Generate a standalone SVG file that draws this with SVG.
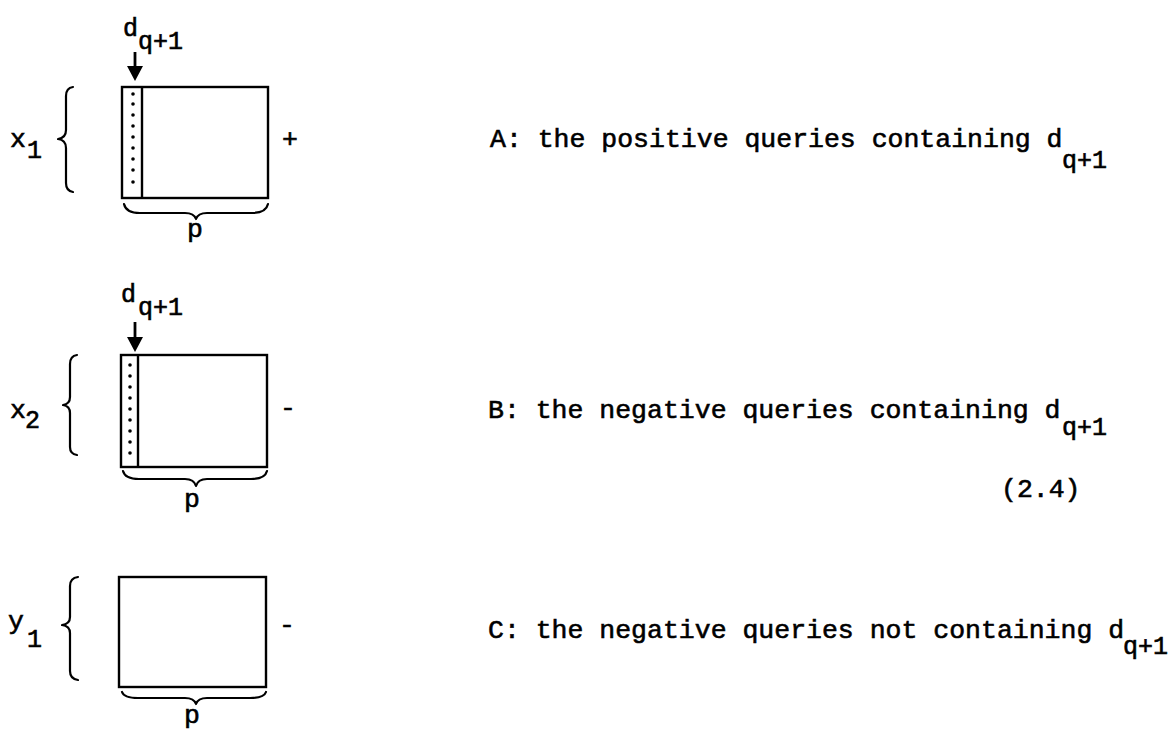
<svg xmlns="http://www.w3.org/2000/svg" width="1170" height="729" viewBox="0 0 1170 729">
<style>
.t{font-family:"Liberation Mono","Courier New",monospace;font-size:26.5px;fill:#000;stroke:#000;stroke-width:0.6}
.s{font-family:"Liberation Mono","Courier New",monospace;font-size:25px;fill:#000;stroke:#000;stroke-width:0.6}
.box{fill:none;stroke:#000;stroke-width:2.4}
.br{fill:none;stroke:#000;stroke-width:2.2;stroke-linecap:round;stroke-linejoin:round}
.dot{fill:#000}
.ar{fill:none;stroke:#000;stroke-width:2.8}
.ah{fill:#000}
</style>
<rect width="1170" height="729" fill="#fff"/>

<g id="panelA">
  <text class="t" x="10" y="147">x</text><text class="s" x="27" y="158">1</text>
  <path class="br" d="M73,87 Q66,88 66,96 L66,130 Q66,138 58,139 Q66,140 66,148 L66,183 Q66,191 73,192"/>
  <rect class="box" x="122" y="87" width="146" height="111"/>
  <line class="box" x1="142" y1="87" x2="142" y2="198"/>
  <g class="dot">
    <circle cx="133" cy="94" r="1.8"/><circle cx="133" cy="104" r="1.8"/><circle cx="133" cy="115" r="1.8"/>
    <circle cx="133" cy="126" r="1.8"/><circle cx="133" cy="137" r="1.8"/><circle cx="133" cy="148" r="1.8"/>
    <circle cx="133" cy="159" r="1.8"/><circle cx="133" cy="170" r="1.8"/><circle cx="133" cy="182" r="1.8"/>
  </g>
  <text class="s" x="123" y="36">d</text><text class="s" x="138" y="49">q+1</text>
  <text class="t" x="290" y="147" text-anchor="middle">+</text>
  <path class="br" d="M124,204 Q126,213 140,213 L185,213 Q194,213 196,219 Q198,213 207,213 L252,213 Q266,213 268,204"/>
  <text class="t" x="195" y="237" text-anchor="middle">p</text>
  <text class="t" x="490" y="147">A: the positive queries containing d</text>
  <text class="s" x="1062" y="168">q+1</text>
</g>

<g id="panelB">
  <text class="t" x="10" y="418">x</text><text class="s" x="25" y="428">2</text>
  <path class="br" d="M77,355 Q70,356 70,364 L70,397 Q70,404 63,405 Q70,406 70,413 L70,447 Q70,454 77,455"/>
  <rect class="box" x="121" y="355" width="146" height="112"/>
  <line class="box" x1="138" y1="355" x2="138" y2="467"/>
  <g class="dot">
    <circle cx="130" cy="365" r="1.8"/><circle cx="130" cy="376" r="1.8"/><circle cx="130" cy="387" r="1.8"/>
    <circle cx="130" cy="398" r="1.8"/><circle cx="130" cy="409" r="1.8"/><circle cx="130" cy="420" r="1.8"/>
    <circle cx="130" cy="431" r="1.8"/><circle cx="130" cy="442" r="1.8"/><circle cx="130" cy="453" r="1.8"/>
  </g>
  <text class="s" x="121" y="302">d</text><text class="s" x="138" y="315">q+1</text>
  <text class="t" x="288" y="416" text-anchor="middle">-</text>
  <path class="br" d="M123,471 Q125,479 139,479 L185,479 Q194,479 196,486 Q198,479 207,479 L251,479 Q265,479 267,471"/>
  <text class="t" x="192" y="507" text-anchor="middle">p</text>
  <text class="t" x="488" y="418">B: the negative queries containing d</text>
  <text class="s" x="1062" y="435">q+1</text>
  <text class="t" x="1001" y="497">(2.4)</text>
</g>

<g id="panelC">
  <text class="t" x="8" y="629">y</text><text class="s" x="27" y="647">1</text>
  <path class="br" d="M78,577 Q70,578 70,586 L70,617 Q70,624 62,625 Q70,626 70,633 L70,671 Q70,679 78,680"/>
  <rect class="box" x="119" y="577" width="147" height="110"/>
  <text class="t" x="287" y="633" text-anchor="middle">-</text>
  <path class="br" d="M122,692 Q124,698 138,698 L185,698 Q194,698 196,704 Q198,698 207,698 L250,698 Q264,698 266,692"/>
  <text class="t" x="192" y="723" text-anchor="middle">p</text>
  <text class="t" x="488" y="638">C: the negative queries not containing d</text>
  <text class="s" x="1123" y="654">q+1</text>
</g>

<g id="connectors">
  <line class="ar" x1="135" y1="52" x2="135" y2="70"/>
  <path class="ah" d="M127,66 L143,66 L135,81 Z"/>
  <line class="ar" x1="135" y1="322" x2="135" y2="342"/>
  <path class="ah" d="M127,337 L143,337 L135,352 Z"/>
</g>
</svg>
